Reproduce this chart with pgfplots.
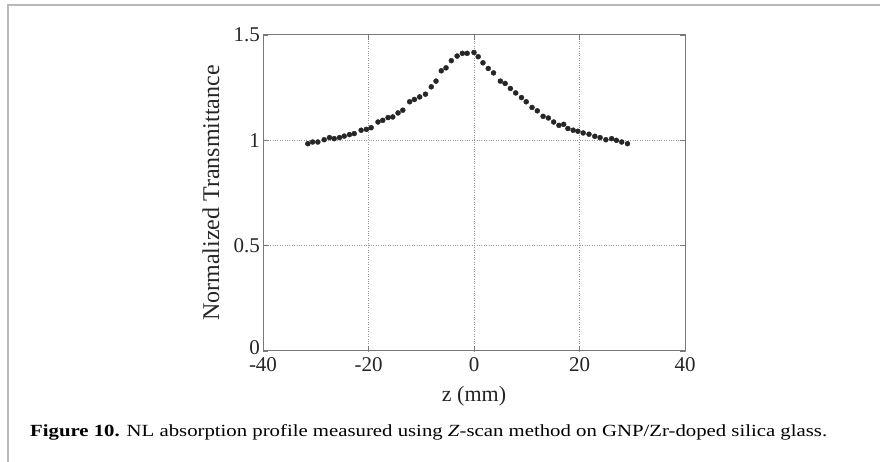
\documentclass[border=0pt]{standalone}
\usepackage{fontspec}
\setmainfont{Liberation Serif}
\usepackage{graphicx}
\usepackage{pgfplots}
\pgfplotsset{compat=1.18}
\definecolor{axgray}{RGB}{120,120,120}
\definecolor{gridgray}{RGB}{150,150,150}
\definecolor{framegray}{RGB}{185,185,185}
\begin{document}
\begin{tikzpicture}
\path[use as bounding box, fill=white] (0pt,0pt) rectangle (880pt,462pt);
\draw[framegray, line width=1.2pt] (8pt,0pt) -- (8pt,457pt) -- (880pt,457pt);
\begin{axis}[
  at={(263pt,111pt)}, anchor=south west,
  scale only axis, width=422pt, height=316pt,
  xmin=-40, xmax=40, ymin=0, ymax=1.5,
  xtick={-40,-20,0,20,40},
  xticklabels={-40,-20,0,20,40},
  ytick={0,0.5,1,1.5},
  yticklabels={\raisebox{6pt}{0},0.5,1,1.5},
  /pgf/number format/assume math mode=true,
  tick label style={font=\fontsize{21}{23}\selectfont, text=black!85, inner sep=1pt},
  xticklabel style={yshift=-5pt},
  yticklabel style={xshift=-2pt},
  axis line style={axgray, line width=1pt},
  tick style={axgray, line width=0.8pt},
  major tick length=5pt,
  tick align=inside,
  xmajorgrids, ymajorgrids,
  grid style={gridgray, dotted, line width=1pt},
  every axis x label/.style={at={(axis description cs:0.5,0)}, yshift=-45pt, anchor=center, font=\fontsize{22}{24}\selectfont},
  every axis y label/.style={at={(axis description cs:0,0.5)}, xshift=-52pt, rotate=90, anchor=center, font=\fontsize{24}{26}\selectfont},
  label style={text=black!85},
  xlabel={z (mm)},
  ylabel={Normalized Transmittance},
]
\addplot[only marks, mark=*, mark size=2.5pt, mark options={fill=black!85, draw=black!85}] coordinates {
(-31.5,0.984) (-30.6,0.992) (-29.6,0.992) (-28.4,1.003) (-27.4,1.013)
(-26.5,1.008) (-25.5,1.013) (-24.6,1.020) (-23.6,1.027) (-22.7,1.032)
(-21.4,1.048) (-20.4,1.052) (-19.5,1.060) (-18.2,1.087) (-17.3,1.095)
(-16.3,1.108) (-15.4,1.111) (-14.4,1.130) (-13.5,1.143) (-12.2,1.183)
(-11.3,1.194) (-10.3,1.206) (-9.2,1.219) (-8.1,1.254) (-7.2,1.281)
(-6.2,1.330) (-5.3,1.344) (-4.3,1.378) (-3.2,1.400) (-2.2,1.413)
(-1.3,1.413) (0.0,1.417) (0.8,1.397) (1.7,1.368) (2.7,1.341)
(3.7,1.320) (5.0,1.281) (5.9,1.270) (6.9,1.246) (7.9,1.225)
(9.0,1.203) (9.9,1.183) (11.0,1.156) (12.0,1.140) (13.1,1.114)
(14.1,1.106) (15.1,1.087) (16.1,1.071) (17.0,1.076) (17.8,1.056)
(18.8,1.048) (19.7,1.043) (20.7,1.035) (21.8,1.029) (22.9,1.019)
(23.9,1.013) (25.0,1.003) (26.1,1.008) (27.0,1.000) (28.0,0.992)
(29.1,0.984)
};
\end{axis}
\node[anchor=base west, inner sep=0pt] at (30pt,25pt) {\resizebox{797pt}{12pt}{\fontsize{16}{18}\selectfont\textbf{Figure 10.} NL absorption profile measured using \textit{Z}-scan method on GNP/Zr-doped silica glass.}};
\end{tikzpicture}
\end{document}
